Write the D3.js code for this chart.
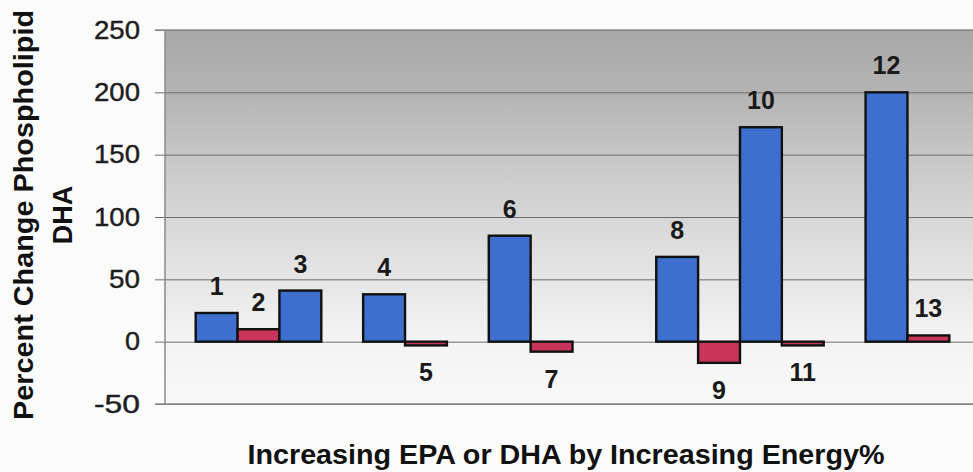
<!DOCTYPE html>
<html>
<head>
<meta charset="utf-8">
<script src="https://cdn.jsdelivr.net/npm/d3@7/dist/d3.min.js"></script>
<style>
  html, body { margin: 0; padding: 0; background: #fbfbfb; }
  svg { display: block; }
  text { font-family: "Liberation Sans", Arial, sans-serif; }
</style>
</head>
<body>
<svg id="chart" width="973" height="472"></svg>
<script>
// Bar labels (numbered treatments) and their percent change values
const labels = ["1", "2", "3", "4", "5", "6", "7", "8", "9", "10", "11", "12", "13"];
const values = [23, 10, 41, 38, -3, 85, -8, 68, -17, 172, -3, 200, 5];
const series = ["A", "B", "A", "A", "B", "A", "B", "A", "B", "A", "B", "A", "B"];

// Category slots along the x axis; "gap" entries are empty categories
const slots = ["1", "2", "3", "gap1", "4", "5", "gap2", "6", "7", "gap3", "gap4",
               "8", "9", "10", "11", "gap5", "12", "13"];

const yTicks = [-50, 0, 50, 100, 150, 200, 250];
const yTitle = ["Percent Change Phospholipid", "DHA"];
const xTitle = "Increasing EPA or DHA by Increasing Energy%";

const colors = { A: "#3d6fce", B: "#c93559" };

const svg = d3.select("#chart");
const plotL = 165, plotR = 980, plotT = 30, plotB = 404;

const x = d3.scaleBand().domain(slots).range([plotL, plotR])
  .paddingInner(0).paddingOuter(0.733);
const y = d3.scaleLinear().domain([-50, 250]).range([plotB, plotT]);

// Plot area background gradient
const defs = svg.append("defs");
const grad = defs.append("linearGradient").attr("id", "bg")
  .attr("x1", 0).attr("y1", 0).attr("x2", 0).attr("y2", 1);
[[0, "#a8a8a8"], [0.17, "#b4b4b4"], [0.35, "#c8c8c8"], [0.6, "#e0e0e0"],
 [0.82, "#f3f3f3"], [1, "#f9f9f9"]]
  .forEach(([o, c]) => grad.append("stop").attr("offset", o).attr("stop-color", c));

svg.append("rect").attr("x", plotL).attr("y", plotT)
  .attr("width", plotR - plotL).attr("height", plotB - plotT)
  .attr("fill", "url(#bg)");

// Gridlines and tick labels (plain hyphen for negatives)
const yAxis = d3.axisLeft(y).tickValues(yTicks).tickFormat(d => String(d))
  .tickSize(-(plotR - plotL)).tickPadding(25);
const gy = svg.append("g").attr("transform", `translate(${plotL},0)`).call(yAxis);
gy.select(".domain").remove();
gy.selectAll(".tick line").attr("stroke", "#6e6e6e").attr("stroke-width", 1)
  .attr("x1", -10);
gy.selectAll(".tick text")
  .attr("font-size", 25).attr("fill", "#1e1e1e")
  .attr("font-family", "'Liberation Sans', Arial, sans-serif")
  .attr("stroke", "#1e1e1e").attr("stroke-width", 0.4)
  .attr("textLength", d => (String(d).length === 3 ? 46 : String(d).length === 2 ? 31 : 15))
  .attr("lengthAdjust", "spacingAndGlyphs");

// Frame: left axis line, top and bottom edges
svg.append("line").attr("x1", plotL).attr("x2", plotL).attr("y1", plotT).attr("y2", plotB)
  .attr("stroke", "#8a8a8a").attr("stroke-width", 1.5);
svg.append("line").attr("x1", plotL - 10).attr("x2", plotR).attr("y1", plotB).attr("y2", plotB)
  .attr("stroke", "#8a8a8a").attr("stroke-width", 1.5);
svg.append("line").attr("x1", plotL - 10).attr("x2", plotR).attr("y1", plotT).attr("y2", plotT)
  .attr("stroke", "#8f8f8f").attr("stroke-width", 1.5);

// Bars
const data = labels.map((l, i) => ({ label: l, value: values[i], series: series[i] }));
svg.append("g").selectAll("rect").data(data).join("rect")
  .attr("x", d => x(d.label))
  .attr("width", x.bandwidth())
  .attr("y", d => y(Math.max(0, d.value)))
  .attr("height", d => Math.abs(y(d.value) - y(0)))
  .attr("fill", d => colors[d.series])
  .attr("stroke", "#111")
  .attr("stroke-width", 2.4);

// Value labels above positive bars, below negative bars
svg.append("g").selectAll("text").data(data).join("text")
  .attr("x", d => x(d.label) + x.bandwidth() / 2)
  .attr("y", d => d.value >= 0 ? y(d.value) - 27 : y(d.value) + 27)
  .attr("dy", "0.36em")
  .attr("text-anchor", "middle")
  .attr("font-size", 25).attr("font-weight", "bold").attr("fill", "#1a1a1a")
  .text(d => d.label);

// Axis titles
const yt = svg.append("g").attr("transform", "translate(0,215) rotate(-90)");
yt.append("text").attr("x", 0).attr("y", 33).attr("text-anchor", "middle")
  .attr("font-size", 27).attr("font-weight", "bold").attr("fill", "#111")
  .attr("textLength", 410).attr("lengthAdjust", "spacingAndGlyphs")
  .text(yTitle[0]);
yt.append("text").attr("x", 0).attr("y", 72).attr("text-anchor", "middle")
  .attr("font-size", 27).attr("font-weight", "bold").attr("fill", "#111")
  .text(yTitle[1]);

svg.append("text").attr("x", 566).attr("y", 464).attr("text-anchor", "middle")
  .attr("font-size", 28).attr("font-weight", "bold").attr("fill", "#111")
  .attr("textLength", 637).attr("lengthAdjust", "spacingAndGlyphs")
  .text(xTitle);
</script>
</body>
</html>
